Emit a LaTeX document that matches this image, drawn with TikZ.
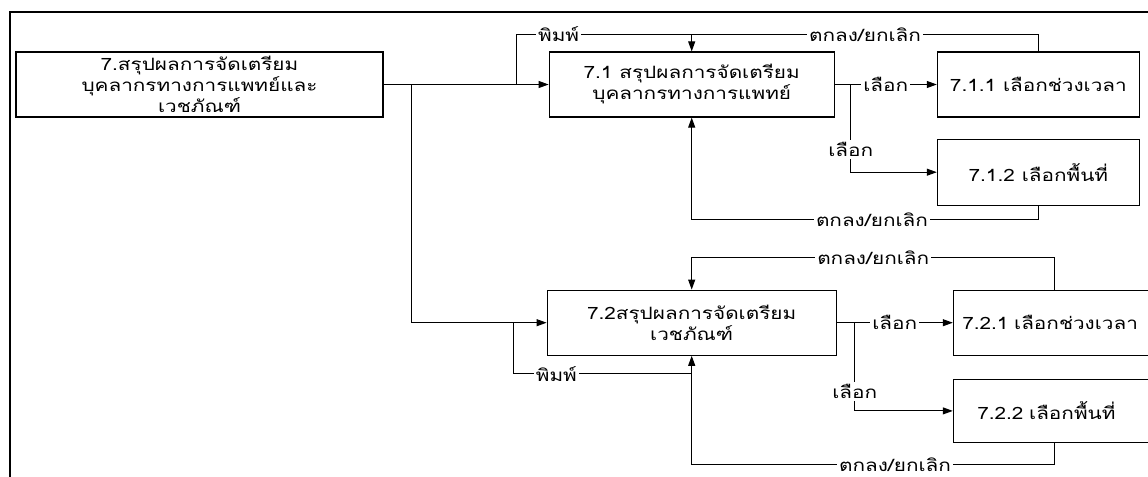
\documentclass[tikz,border=0pt]{standalone}
\usepackage{fontspec}
\newfontfamily\thaifont[Script=Thai, FakeStretch=1.22]{Loma}
\usetikzlibrary{arrows.meta, positioning, calc}

\begin{document}
\begin{tikzpicture}[
      x=1pt, y=1pt, line width=0.5pt,
      box/.style={draw, line width=0.6pt, inner sep=0pt, align=center,
        minimum height=32.5pt, font=\thaifont\fontsize{8.5}{10.5}\selectfont},
      cutbox/.style={box, text width=130pt, align=left},
      lbl/.style={fill=white, inner sep=1pt,
        font=\thaifont\fontsize{8.5}{10.5}\selectfont},
      >={Triangle[length=5pt, width=3.5pt]}
    ]
  \useasboundingbox (0,0) rectangle (574,-238.5);
  \clip (0,0) rectangle (574,-238.5);
  \draw[line width=0.6pt] (5,-6) rectangle (600,-260);

  % main screen and its two sub screens
  \node[box, minimum width=183.5pt] (sum7) at (99.75,-42.25)
    {7.สรุปผลการจัดเตรียม\\บุคลากรทางการแพทย์และ\\เวชภัณฑ์};
  \node[box, minimum width=142.5pt, right=82.5pt of sum7] (s71)
    {7.1 สรุปผลการจัดเตรียม\\บุคลากรทางการแพทย์};
  \node[box, minimum width=101pt, right=51pt of s71] (s711)
    {7.1.1 เลือกช่วงเวลา};
  \node[box, minimum width=101pt, minimum height=33pt,
    below=10.5pt of s711] (s712) {7.1.2 เลือกพื้นที่};
  \node[box, minimum width=144.5pt, below=86pt of s71] (s72)
    {7.2สรุปผลการจัดเตรียม\\เวชภัณฑ์};
  \node[cutbox, inner xsep=4.5pt, right=58pt of s72.east, anchor=west] (s721)
    {7.2.1 เลือกช่วงเวลา};
  \node[cutbox, inner xsep=12pt, minimum height=31.5pt,
    below=11.5pt of s721.south west, anchor=north west] (s722)
    {7.2.2 เลือกพื้นที่};

  % junction points
  \coordinate (split) at ($(sum7.east)+(14pt,0)$);
  \coordinate (print1) at ($(s71.west)+(-16pt,0)$);
  \coordinate (print2) at ($(s72.west)+(-16.5pt,0)$);
  \coordinate (top1) at ($(s71.north)+(0,8.5pt)$);
  \coordinate (bot1) at ($(s71.south)+(0,-51pt)$);
  \coordinate (top2) at ($(s72.north)+(0,16pt)$);
  \coordinate (join2) at ($(s72.south)+(0,-9pt)$);
  \coordinate (bot2) at ($(s72.south)+(0,-54.5pt)$);
  \coordinate (fork1) at ($(s71.east)+(8pt,0)$);
  \coordinate (fork2) at ($(s72.east)+(9pt,0)$);
  \coordinate (ok21) at ($(s721.north west)+(51pt,0)$);
  \coordinate (ok22) at ($(s722.south west)+(51pt,0)$);

  \draw (sum7.east) -- (split);
  \draw[->] (split) -- (s71.west);
  \draw[->] (split) |- (s72.west);

  % 7.1 branch
  \draw (print1) |- node[lbl, pos=0.62] {พิมพ์} (top1);
  \draw[->] (s711.north) |- node[lbl, pos=0.75] {ตกลง/ยกเลิก} (top1)
    -- (s71.north);
  \draw[->] (s71.east) -- node[lbl] {เลือก} (s711.west);
  \draw[->] (fork1) |- node[lbl, pos=0.37] {เลือก} (s712.west);
  \draw[->] (s712.south) |- node[lbl, pos=0.74] {ตกลง/ยกเลิก} (bot1)
    -- (s71.south);

  % 7.2 branch
  \draw[->] (ok21) |- node[lbl, pos=0.75] {ตกลง/ยกเลิก} (top2)
    -- (s72.north);
  \draw (print2) |- node[lbl, pos=0.62] {พิมพ์} (join2);
  \draw[->] (s72.east) -- node[lbl] {เลือก} (s721.west);
  \draw[->] (fork2) |- node[lbl, pos=0.39] {เลือก} (s722.west);
  \draw[->] (ok22) |- node[lbl, pos=0.72] {ตกลง/ยกเลิก} (bot2)
    -- (s72.south);
\end{tikzpicture}
\end{document}
